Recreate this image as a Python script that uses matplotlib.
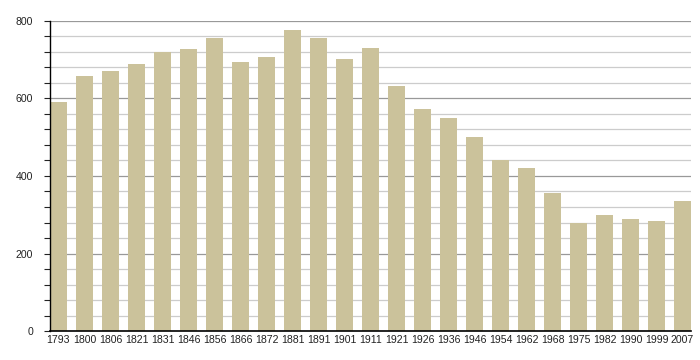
import matplotlib
matplotlib.use("Agg")
import matplotlib.pyplot as plt
from matplotlib.ticker import MultipleLocator

years = ["1793", "1800", "1806", "1821", "1831", "1846", "1856", "1866", "1872",
         "1881", "1891", "1901", "1911", "1921", "1926", "1936", "1946", "1954",
         "1962", "1968", "1975", "1982", "1990", "1999", "2007"]
population = [591, 658, 671, 689, 721, 728, 756, 694, 707, 777, 756, 702, 730,
              632, 574, 550, 501, 441, 421, 356, 280, 299, 289, 284, 335]
y_ticks = [0, 200, 400, 600, 800]

plt.rcParams['font.family'] = ['Liberation Sans', 'DejaVu Sans']

fig = plt.figure(figsize=(7, 3.6), dpi=100)
ax = fig.add_axes([50/700, 29/360, 641/700, 310/360])

x = list(range(len(years)))
ax.bar(x, population, width=0.65, color="#cbc29b", zorder=3)

ax.set_xlim(-0.325, len(years) - 1 + 0.325)
ax.set_ylim(0, 800)
ax.set_yticks(y_ticks)
ax.yaxis.set_minor_locator(MultipleLocator(40))
ax.set_xticks(x)
ax.set_xticklabels(years)

ax.grid(axis='y', which='major', color='#999999', linewidth=0.9, zorder=0)
ax.grid(axis='y', which='minor', color='#cccccc', linewidth=0.9, zorder=0)

for s in ['top', 'right']:
    ax.spines[s].set_visible(False)
ax.spines['left'].set_color('black')
ax.spines['bottom'].set_color('black')
ax.spines['left'].set_linewidth(1)
ax.spines['bottom'].set_linewidth(1.2)
ax.spines['left'].set_zorder(4)
ax.spines['bottom'].set_zorder(4)

ax.tick_params(axis='x', length=0, labelsize=7.6, pad=3, colors='#222222')
ax.tick_params(axis='y', which='major', length=4, width=0.8, labelsize=7.6, colors='#222222', pad=8)
ax.tick_params(axis='y', which='minor', length=4, width=0.8, colors='#222222')

fig.savefig("out.png", dpi=100)
